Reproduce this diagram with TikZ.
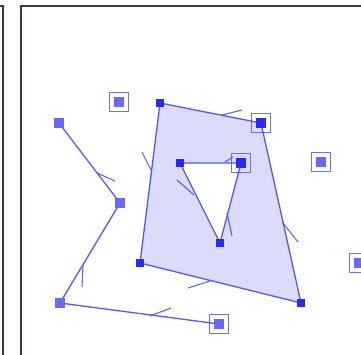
\documentclass[tikz,border=0pt]{standalone}
\begin{document}
\begin{tikzpicture}[x=1pt,y=-1pt,
  edge/.style={draw=ln,line width=1.3pt,opacity=0.9},
  barb/.style={draw=ln,line width=1.1pt,opacity=0.85},
  dot/.style={rectangle,fill=dt,inner sep=0pt,minimum size=8.5pt,draw=none},
  dotl/.style={rectangle,fill=dtl,inner sep=0pt,minimum size=9.5pt,draw=none},
  boxo/.style={rectangle,draw=bx,line width=1.3pt,fill=white,inner sep=0pt,minimum size=18.5pt},
  frame/.style={draw=fr,line width=1.8pt}]
\definecolor{ln}{RGB}{70,70,255}
\definecolor{dt}{RGB}{40,40,255}
\definecolor{dtl}{RGB}{105,105,255}
\definecolor{bx}{RGB}{110,110,255}
\definecolor{fr}{RGB}{58,58,72}
\definecolor{pf}{RGB}{220,220,250}
\useasboundingbox (0,0) rectangle (361,355);
% frames
\draw[frame] (0,6) -- (3,6) -- (3,356);
\draw[frame] (21,356) -- (21,6) -- (362,6);
% coordinates
\coordinate (A) at (59,123);
\coordinate (B) at (120,203);
\coordinate (C) at (60,303);
\coordinate (D) at (219,324);
\coordinate (P1) at (160,103);
\coordinate (P2) at (261,123);
\coordinate (P3) at (301,303);
\coordinate (P4) at (140,263);
\coordinate (T1) at (180,163);
\coordinate (T2) at (241,163);
\coordinate (T3) at (220,243);
% polygon fill with hole
\fill[pf,even odd rule] (P1) -- (P2) -- (P3) -- (P4) -- cycle (T1) -- (T2) -- (T3) -- cycle;
% boxes (outer squares)
\node[boxo] (Q1) at (119,102) {};
\node[boxo] (Q2) at (321,162) {};
\node[boxo] (Q3) at (359,263) {};
\node[boxo,fill=none] (BD) at (D) {};
\node[boxo,fill=none] (BP2) at (P2) {};
\node[boxo,fill=none] (BT2) at (T2) {};
% edges
\draw[edge] (A) -- (B) -- (C) -- (D);
\draw[edge] (P1) -- (P2) -- (P3) -- (P4) -- cycle;
\draw[edge] (T1) -- (T2) -- (T3) -- cycle;
% barbs
\draw[barb] (97,173) -- (115,181);
\draw[barb] (83,265) -- (82,287);
\draw[barb] (150,316) -- (171,308);
\draw[barb] (210,281) -- (188,288);
\draw[barb] (222,115) -- (242,110);
\draw[barb] (283,223) -- (298,242);
\draw[barb] (151,170) -- (142,152);
\draw[barb] (194,195) -- (177,180);
\draw[barb] (227,213) -- (232,236);
\draw[barb] (225,162) -- (233,157);
% vertex dots
\node[dotl] (nA) at (A) {};
\node[dotl] (nB) at (B) {};
\node[dotl] (nC) at (C) {};
\node[dotl] (nD) at (D) {};
\node[dot] (nP1) at (P1) {};
\node[dot,minimum size=10pt] (nP2) at (P2) {};
\node[dot] (nP3) at (P3) {};
\node[dot] (nP4) at (P4) {};
\node[dot] (nT1) at (T1) {};
\node[dot,minimum size=10pt] (nT2) at (T2) {};
\node[dot] (nT3) at (T3) {};
\node[dotl,minimum size=10pt] (q1) at (Q1) {};
\node[dotl,minimum size=10pt] (q2) at (Q2) {};
\node[dotl,minimum size=10pt] (q3) at (Q3) {};
\end{tikzpicture}
\end{document}
